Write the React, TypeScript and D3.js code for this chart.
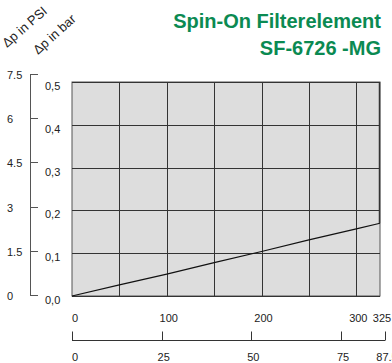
import React, { useEffect, useRef } from 'react';
import * as d3 from 'd3';

// flow in l/min vs. pressure drop in bar
const flowLpm = [0, 50, 100, 150, 200, 250, 300, 325];
const dpBar = [0, 0.026, 0.051, 0.078, 0.104, 0.131, 0.157, 0.17];

const barTicks = [0, 0.1, 0.2, 0.3, 0.4, 0.5];
const psiTicks = [0, 1.5, 3, 4.5, 6, 7.5];
const lpmLabels = [0, 100, 200, 300, 325];
const gpmTicks = [0, 25, 50, 75, 87.5];
const gridLpm = [50, 100, 150, 200, 250, 300];

const titleLines = ['Spin-On Filterelement', 'SF-6726 -MG'];

const App: React.FC = () => {
  const svgRef = useRef<SVGSVGElement>(null);

  useEffect(() => {
    if (!svgRef.current) return;
    const width = 392;
    const height = 363;
    const font = '"Liberation Sans", Arial, sans-serif';

    const svg = d3.select(svgRef.current)
      .attr('width', width)
      .attr('height', height)
      .html('');

    svg.append('rect').attr('width', width).attr('height', height).attr('fill', '#fff');

    const x = d3.scaleLinear().domain([0, 325]).range([72, 380]);
    const y = d3.scaleLinear().domain([0, 0.5]).range([296, 82]);
    const yPsi = d3.scaleLinear().domain([0, 7.5]).range([295, 74]);
    // lower scale is not linear in the original drawing
    const xGpm = d3.scaleLinear().domain([0, 75, 87.5]).range([72, 341, 385]);

    // title
    titleLines.forEach((t, i) => {
      svg.append('text')
        .attr('x', 381)
        .attr('y', 28 + i * 27)
        .attr('text-anchor', 'end')
        .attr('font-family', font)
        .attr('font-weight', 'bold')
        .attr('font-size', '20px')
        .attr('fill', '#0b8a52')
        .text(t);
    });

    // rotated axis titles
    svg.append('text')
      .attr('transform', 'translate(7,48) rotate(-41)')
      .attr('font-family', font)
      .attr('font-size', '13px')
      .attr('fill', '#222')
      .text('Δp in PSI');
    svg.append('text')
      .attr('transform', 'translate(38,55) rotate(-42)')
      .attr('font-family', font)
      .attr('font-size', '13px')
      .attr('fill', '#222')
      .text('Δp in bar');

    // plot area
    svg.append('rect')
      .attr('x', x(0)).attr('y', y(0.5))
      .attr('width', x(325) - x(0)).attr('height', y(0) - y(0.5))
      .attr('fill', '#dddddd')
      .attr('stroke', '#555')
      .attr('stroke-width', 1);

    const grid = svg.append('g').attr('stroke', '#333').attr('stroke-width', 1);
    barTicks.forEach(v => {
      grid.append('line')
        .attr('x1', x(0)).attr('x2', x(325))
        .attr('y1', Math.round(y(v)) + 0.5).attr('y2', Math.round(y(v)) + 0.5);
    });
    gridLpm.forEach(v => {
      grid.append('line')
        .attr('x1', Math.round(x(v)) + 0.5).attr('x2', Math.round(x(v)) + 0.5)
        .attr('y1', y(0.5)).attr('y2', y(0));
    });

    // curve
    const line = d3.line<number>()
      .x((_, i) => x(flowLpm[i]))
      .y(d => y(d));
    svg.append('path')
      .attr('d', line(dpBar))
      .attr('fill', 'none')
      .attr('stroke', '#111')
      .attr('stroke-width', 1.2);

    // right edge above the curve end
    svg.append('line')
      .attr('x1', x(325) - 0.5).attr('x2', x(325) - 0.5)
      .attr('y1', y(0.5)).attr('y2', y(dpBar[dpBar.length - 1]))
      .attr('stroke', '#333').attr('stroke-width', 1.5);

    // bar labels
    barTicks.forEach(v => {
      svg.append('text')
        .attr('x', 45).attr('y', y(v) + 8)
        .attr('font-family', font).attr('font-size', '11px').attr('fill', '#222')
        .text(d3.format('.1f')(v).replace('.', ','));
    });

    // psi axis
    const psi = svg.append('g').attr('stroke', '#555').attr('stroke-width', 1);
    psi.append('line')
      .attr('x1', 30.5).attr('x2', 30.5)
      .attr('y1', yPsi(7.5)).attr('y2', yPsi(0));
    psiTicks.forEach(v => {
      psi.append('line')
        .attr('x1', 30).attr('x2', 38)
        .attr('y1', Math.round(yPsi(v)) + 0.5).attr('y2', Math.round(yPsi(v)) + 0.5);
      svg.append('text')
        .attr('x', 7).attr('y', yPsi(v) + 5)
        .attr('font-family', font).attr('font-size', '11px').attr('fill', '#222')
        .text(String(v));
    });

    // flow axis
    const axY = 340.5;
    const fa = svg.append('g').attr('stroke', '#333').attr('stroke-width', 1);
    fa.append('line').attr('x1', xGpm(0)).attr('x2', xGpm(87.5)).attr('y1', axY).attr('y2', axY);
    gpmTicks.forEach(v => {
      fa.append('line')
        .attr('x1', Math.round(xGpm(v)) + 0.5).attr('x2', Math.round(xGpm(v)) + 0.5)
        .attr('y1', axY - 9).attr('y2', axY);
      svg.append('text')
        .attr('x', v === 0 ? xGpm(v) : xGpm(v) + 2)
        .attr('y', 361)
        .attr('text-anchor', v === 0 ? 'start' : 'middle')
        .attr('font-family', font).attr('font-size', '11px').attr('fill', '#222')
        .text(String(v));
    });
    lpmLabels.forEach(v => {
      svg.append('text')
        .attr('x', v === 0 ? x(v) : x(v) + 2)
        .attr('y', 322)
        .attr('text-anchor', v === 0 ? 'start' : 'middle')
        .attr('font-family', font).attr('font-size', '11px').attr('fill', '#222')
        .text(String(v));
    });
  }, []);

  return (
    <svg ref={svgRef} style={{ position: 'absolute', left: 0, top: 0, display: 'block' }}></svg>
  );
};

export default App;
